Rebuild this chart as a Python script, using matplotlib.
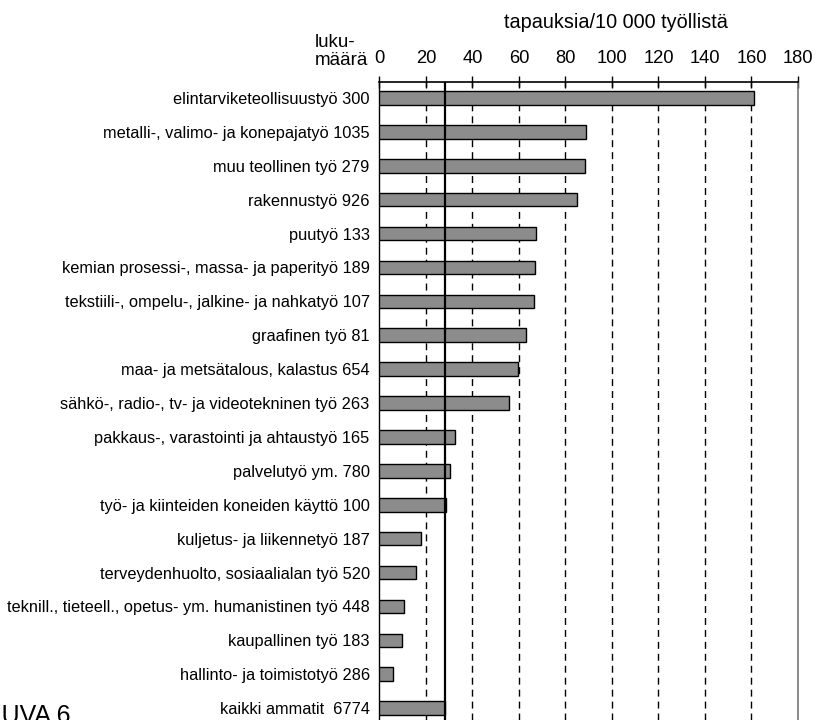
import matplotlib
matplotlib.use("Agg")
import matplotlib.pyplot as plt

categories = [
    "elintarviketeollisuustyö 300",
    "metalli-, valimo- ja konepajatyö 1035",
    "muu teollinen työ 279",
    "rakennustyö 926",
    "puutyö 133",
    "kemian prosessi-, massa- ja paperityö 189",
    "tekstiili-, ompelu-, jalkine- ja nahkatyö 107",
    "graafinen työ 81",
    "maa- ja metsätalous, kalastus 654",
    "sähkö-, radio-, tv- ja videotekninen työ 263",
    "pakkaus-, varastointi ja ahtaustyö 165",
    "palvelutyö ym. 780",
    "työ- ja kiinteiden koneiden käyttö 100",
    "kuljetus- ja liikennetyö 187",
    "terveydenhuolto, sosiaalialan työ 520",
    "teknill., tieteell., opetus- ym. humanistinen työ 448",
    "kaupallinen työ 183",
    "hallinto- ja toimistotyö 286",
    "kaikki ammatit  6774",
]
values = [161.0, 88.7, 88.6, 85.1, 67.3, 66.9, 66.3, 63.1, 59.7, 55.8,
          32.5, 30.2, 28.5, 17.7, 15.7, 10.5, 9.6, 6.0, 28.2]
average = 28.2
xticks = [0, 20, 40, 60, 80, 100, 120, 140, 160, 180]

plt.rcParams['font.family'] = ['Liberation Sans', 'DejaVu Sans']

W, H = 817, 720
fig = plt.figure(figsize=(W / 100, H / 100), dpi=100)
ax = fig.add_axes([379.4 / W, 0.0, (798 - 379.4) / W, 1 - 82 / H])

y = list(range(len(categories)))
ax.barh(y, values, height=0.40, color='#8c8c8c', edgecolor='black', linewidth=1.0, zorder=3)

for xv in xticks[1:-1]:
    ax.axvline(xv, color='black', linewidth=1.0, linestyle=(0, (5, 3.6)), zorder=1)
ax.axvline(average, color='black', linewidth=1.6, zorder=4)

ax.set_xlim(0, 180)
ax.set_ylim(18.35, -0.47)
ax.set_yticks(y)
ax.set_yticklabels(categories, fontsize=11.8)
ax.tick_params(axis='y', length=0, pad=7)

ax.xaxis.tick_top()
ax.set_xticks(xticks)
ax.set_xticklabels([str(v) for v in xticks], fontsize=13.2)
ax.tick_params(axis='x', direction='inout', length=9, width=1, pad=6)

ax.spines['bottom'].set_visible(False)
ax.spines['top'].set_linewidth(1.2)
ax.spines['left'].set_linewidth(1.0)
ax.spines['right'].set_color('#777777')
ax.spines['right'].set_linewidth(1.2)

fig.text(616 / W, 1 - 28 / H, "tapauksia/10 000 työllistä", ha='center', va='baseline', fontsize=14.3)
fig.text(315 / W, 1 - 46.7 / H, "luku-", ha='left', va='baseline', fontsize=13.5)
fig.text(315 / W, 1 - 65 / H, "määrä", ha='left', va='baseline', fontsize=13.5)
fig.text(-15 / W, 1 - 723 / H, "KUVA 6", ha='left', va='baseline', fontsize=18)

fig.savefig("out.png", dpi=100)
